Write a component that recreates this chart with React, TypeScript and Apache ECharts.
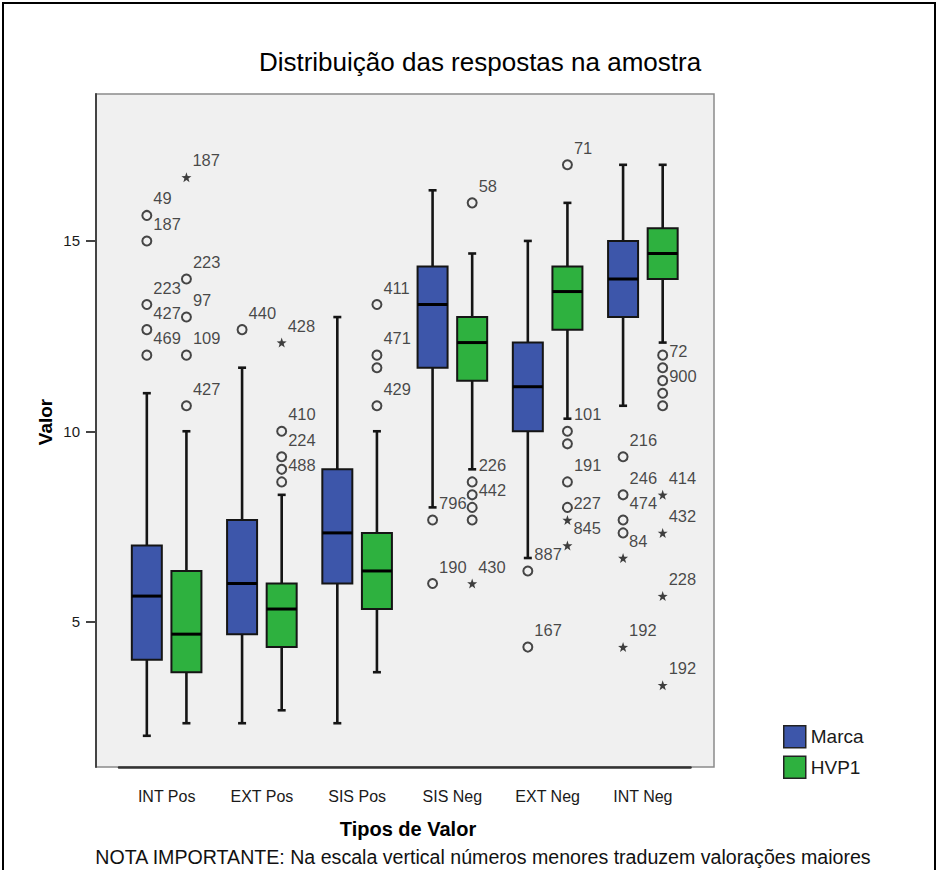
import React, { useEffect, useRef } from "react";
import * as echarts from "echarts";

// ---------- data ----------
const categories = ["INT Pos", "EXT Pos", "SIS Pos", "SIS Neg", "EXT Neg", "INT Neg"];

// [min whisker, Q1, median, Q3, max whisker]
const marcaBoxes = [
  [2, 4, 5.67, 7, 11],
  [2.33, 4.67, 6, 7.67, 11.67],
  [2.33, 6, 7.33, 9, 13],
  [8, 11.67, 13.33, 14.33, 16.33],
  [6.67, 10, 11.17, 12.33, 15],
  [10.67, 13, 14, 15, 17],
];
const hvpBoxes = [
  [2.33, 3.67, 4.67, 6.33, 10],
  [2.67, 4.33, 5.33, 6, 8.33],
  [3.67, 5.33, 6.33, 7.33, 10],
  [9, 11.33, 12.33, 13, 14.67],
  [10.33, 12.67, 13.67, 14.33, 16],
  [12.33, 14, 14.67, 15.33, 17],
];

// [category index, value, case label, kind ("o" outlier, "*" extreme)]
const marcaOutliers = [
  [0, 15.67, "49", "o"], [0, 15, "187", "o"], [0, 13.33, "223", "o"], [0, 12.67, "427", "o"], [0, 12, "469", "o"],
  [1, 12.67, "440", "o"],
  [3, 7.67, "796", "o"], [3, 6, "190", "o"],
  [4, 6.33, "887", "o"], [4, 4.33, "167", "o"],
  [5, 9.33, "216", "o"], [5, 8.33, "246", "o"], [5, 7.67, "474", "o"], [5, 7.33, "", "o"], [5, 6.67, "84", "*"], [5, 4.33, "192", "*"],
];
const hvpOutliers = [
  [0, 16.67, "187", "*"], [0, 14, "223", "o"], [0, 13, "97", "o"], [0, 12, "109", "o"], [0, 10.67, "427", "o"],
  [1, 12.33, "428", "*"], [1, 10, "410", "o"], [1, 9.33, "224", "o"], [1, 9, "", "o"], [1, 8.67, "488", "o"],
  [2, 13.33, "411", "o"], [2, 12, "471", "o"], [2, 11.67, "", "o"], [2, 10.67, "429", "o"],
  [3, 16, "58", "o"], [3, 8.67, "226", "o"], [3, 8.33, "", "o"], [3, 8, "442", "o"], [3, 7.67, "", "o"], [3, 6, "430", "*"],
  [4, 17, "71", "o"], [4, 10, "101", "o"], [4, 9.67, "", "o"], [4, 8.67, "191", "o"], [4, 8, "", "o"], [4, 7.67, "227", "*"], [4, 7, "845", "*"],
  [5, 12, "", "o"], [5, 11.67, "72", "o"], [5, 11.33, "", "o"], [5, 11, "900", "o"], [5, 10.67, "", "o"],
  [5, 8.33, "414", "*"], [5, 7.33, "432", "*"], [5, 5.67, "228", "*"], [5, 3.33, "192", "*"],
];

const yTicks = [5, 10, 15];
const seriesNames = ["Marca", "HVP1"];

// ---------- style ----------
const FONT = '"Liberation Sans", Arial, Helvetica, sans-serif';
const BLUE = "#3D56AA";
const GREEN = "#2EB13F";
const DARK = "#151515";
const STAR =
  "path://M0,-10 L2.35,-3.24 L9.51,-3.09 L3.8,1.24 L5.88,8.09 L0,4 L-5.88,8.09 L-3.8,1.24 L-9.51,-3.09 L-2.35,-3.24 Z";
const OFFSET = 19.8;
const BOXW = 30;

function boxRenderer(offset: number, color: string) {
  return (params: any, api: any) => {
    const cat = api.value(0);
    const xc = api.coord([cat, 0])[0] + offset;
    const y = (i: number) => api.coord([cat, api.value(i)])[1];
    const yMin = y(1), yQ1 = y(2), yMed = y(3), yQ3 = y(4), yMax = y(5);
    const lw = { stroke: DARK, lineWidth: 2.6 };
    return {
      type: "group",
      children: [
        { type: "line", shape: { x1: xc, y1: yQ3, x2: xc, y2: yMax }, style: lw },
        { type: "line", shape: { x1: xc - 4, y1: yMax, x2: xc + 4, y2: yMax }, style: lw },
        { type: "line", shape: { x1: xc, y1: yQ1, x2: xc, y2: yMin }, style: lw },
        { type: "line", shape: { x1: xc - 4, y1: yMin, x2: xc + 4, y2: yMin }, style: lw },
        {
          type: "rect",
          shape: { x: xc - BOXW / 2, y: yQ3, width: BOXW, height: yQ1 - yQ3 },
          style: { fill: color, stroke: DARK, lineWidth: 2 },
        },
        { type: "line", shape: { x1: xc - BOXW / 2, y1: yMed, x2: xc + BOXW / 2, y2: yMed }, style: { stroke: "#000", lineWidth: 3 } },
      ],
    };
  };
}

function outlierData(list: any[]) {
  return list.map((o) => ({
    value: [o[0], o[1], o[2]],
    symbol: o[3] === "*" ? STAR : "circle",
    symbolSize: o[3] === "*" ? 10 : 9,
    itemStyle:
      o[3] === "*"
        ? { color: "#111", borderWidth: 0 }
        : { color: "#f0f0f0", borderColor: "#1a1a1a", borderWidth: 2 },
  }));
}

function outlierSeries(name: string, list: any[], offset: number) {
  return {
    type: "scatter",
    name,
    data: outlierData(list),
    symbolOffset: [offset, 0],
    z: 5,
    label: {
      show: true,
      position: "right",
      distance: 2,
      offset: [-1, -17],
      formatter: (p: any) => p.value[2],
      color: "#1a1a1a",
      fontSize: 16.5,
      fontFamily: FONT,
    },
  };
}

export default function App() {
  const ref = useRef<HTMLDivElement>(null);
  useEffect(() => {
    if (!ref.current) return;
    const chart = echarts.init(ref.current, null, { renderer: "svg" });
    const option: any = {
      animation: false,
      backgroundColor: "#ffffff",
      grid: { left: 119, right: 247.5, top: 94, bottom: 103 },
      legend: {
        data: seriesNames,
        orient: "vertical",
        left: 778,
        top: 720,
        itemWidth: 22,
        itemHeight: 22,
        itemGap: 7,
        icon: "rect",
        selectedMode: false,
        itemStyle: { borderColor: "#222", borderWidth: 1.5 },
        textStyle: { fontSize: 19, fontFamily: FONT, color: "#1a1a1a" },
      },
      xAxis: {
        type: "category",
        data: categories,
        axisLine: { lineStyle: { color: "#333", width: 2.5 } },
        axisTick: { alignWithLabel: true, length: 10, lineStyle: { color: "#333", width: 2 } },
        axisLabel: { margin: 21, fontSize: 16, fontFamily: FONT, color: "#1a1a1a" },
        splitLine: { show: false },
      },
      yAxis: {
        type: "value",
        min: 1.18,
        max: 18.86,
        offset: 23,
        axisLine: { show: true, lineStyle: { color: "#444", width: 2 } },
        axisTick: { show: true, length: 10, customValues: yTicks, lineStyle: { color: "#444", width: 2 } },
        axisLabel: { customValues: yTicks, margin: 16, fontSize: 15, fontFamily: FONT, color: "#1a1a1a" },
        splitLine: { show: false },
      },
      graphic: [
        {
          type: "rect",
          z: -10,
          shape: { x: 3, y: 3, width: 932, height: 900 },
          style: { fill: "none", stroke: "#000", lineWidth: 2 },
        },
        {
          type: "rect",
          z: -10,
          shape: { x: 96, y: 94, width: 618, height: 673 },
          style: { fill: "#f0f0f0", stroke: "#8a8a8a", lineWidth: 1.5 },
        },
        {
          type: "text",
          x: 480,
          y: 62,
          style: {
            text: "Distribuição das respostas na amostra",
            font: `26px ${FONT}`,
            fill: "#000",
            textAlign: "center",
            textVerticalAlign: "middle",
          },
        },
        {
          type: "text",
          x: 408,
          y: 829,
          style: {
            text: "Tipos de Valor",
            font: `bold 20px ${FONT}`,
            fill: "#000",
            textAlign: "center",
            textVerticalAlign: "middle",
          },
        },
        {
          type: "text",
          x: 45,
          y: 422,
          rotation: Math.PI / 2,
          style: {
            text: "Valor",
            font: `bold 19px ${FONT}`,
            fill: "#000",
            textAlign: "center",
            textVerticalAlign: "middle",
          },
        },
        {
          type: "text",
          x: 483,
          y: 857,
          style: {
            text: "NOTA IMPORTANTE: Na escala vertical números menores traduzem valorações maiores",
            font: `19.6px ${FONT}`,
            fill: "#111",
            textAlign: "center",
            textVerticalAlign: "middle",
          },
        },
      ],
      series: [
        {
          type: "custom",
          name: "Marca",
          itemStyle: { color: BLUE },
          renderItem: boxRenderer(-OFFSET, BLUE),
          encode: { x: 0, y: [1, 2, 3, 4, 5] },
          data: marcaBoxes.map((b, i) => [i, ...b]),
          z: 3,
        },
        {
          type: "custom",
          name: "HVP1",
          itemStyle: { color: GREEN },
          renderItem: boxRenderer(OFFSET, GREEN),
          encode: { x: 0, y: [1, 2, 3, 4, 5] },
          data: hvpBoxes.map((b, i) => [i, ...b]),
          z: 3,
        },
        outlierSeries("Marca outliers", marcaOutliers, -OFFSET),
        outlierSeries("HVP1 outliers", hvpOutliers, OFFSET),
      ],
    };
    chart.setOption(option);
    return () => chart.dispose();
  }, []);
  return (
    <div
      ref={ref}
      style={{ position: "absolute", left: 0, top: 0, width: 938, height: 870 }}
    />
  );
}
